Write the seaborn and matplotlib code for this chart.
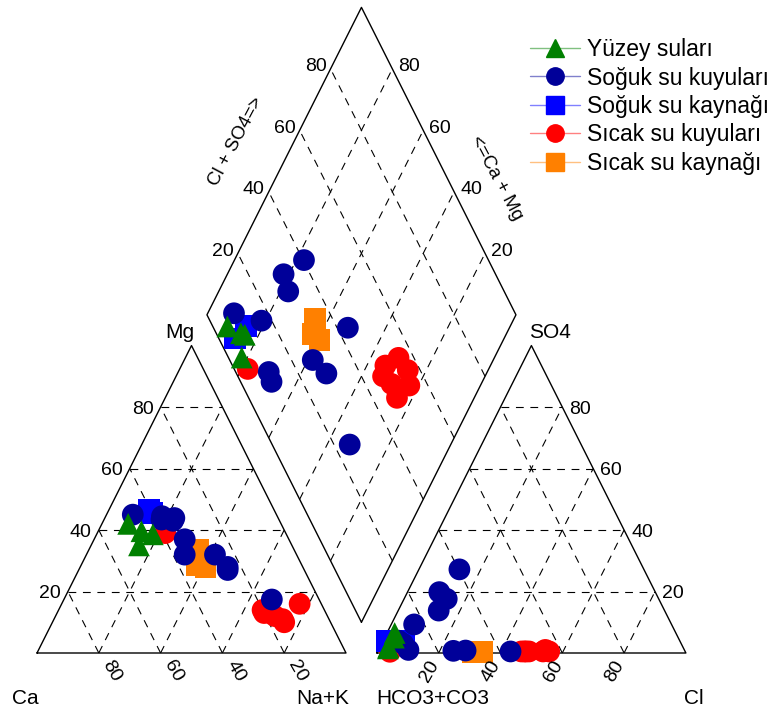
import numpy as np
import pandas as pd
import matplotlib
matplotlib.use("Agg")
import matplotlib.pyplot as plt
from matplotlib.lines import Line2D
from matplotlib.transforms import offset_copy
import seaborn as sns

# ---------------- data (percent of meq) ----------------
groups = ["Yüzey suları", "Soğuk su kuyuları", "Soğuk su kaynağı",
          "Sıcak su kuyuları", "Sıcak su kaynağı"]

# Yüzey suları
yuzey_mg = [42.0, 39.6, 35.0, 38.6]
yuzey_nak = [8.5, 14.0, 15.5, 18.2]
yuzey_so4 = [2.0, 5.0, 6.5, 1.5]
yuzey_cl = [2.7, 3.0, 2.5, 2.8]

# Soğuk su kuyuları
sogukk_mg = [45.0, 43.4, 44.5, 43.9, 43.0, 28.0, 32.0, 27.0, 37.0, 32.0, 17.4]
sogukk_nak = [8.5, 18.6, 18.2, 22.5, 22.5, 47.7, 41.6, 48.2, 29.3, 31.8, 67.3]
sogukk_so4 = [4.0, 9.3, 17.6, 27.2, 19.8, 0.5, 13.8, 0.8, 1.0, 3.0, 0.7]
sogukk_cl = [5.0, 7.4, 13.8, 13.1, 10.3, 43.0, 13.1, 28.3, 9.7, 7.0, 24.4]

# Soğuk su kaynağı
soguky_mg = [46.5, 45.5]
soguky_nak = [13.0, 14.5]
soguky_so4 = [4.0, 4.0]
soguky_cl = [1.3, 6.8]

# Sıcak su kuyuları
sicakk_mg = [14.0, 13.0, 11.0, 13.0, 16.0, 10.0, 12.0, 39.0]
sicakk_nak = [66.0, 69.0, 74.0, 67.0, 77.0, 75.0, 71.0, 22.0]
sicakk_so4 = [0.5, 1.0, 0.5, 0.5, 0.5, 0.5, 0.5, 0.4]
sicakk_cl = [49.0, 54.0, 55.5, 46.5, 53.5, 47.5, 48.0, 4.0]

# Sıcak su kaynağı
sicaky_mg = [33.5, 28.5, 28.0]
sicaky_nak = [35.5, 37.5, 40.5]
sicaky_so4 = [0.3, 0.3, 0.3]
sicaky_cl = [34.0, 31.0, 32.0]

grid_levels = [20, 40, 60, 80]

colors = {"Yüzey suları": "#008000", "Soğuk su kuyuları": "#000099",
          "Soğuk su kaynağı": "#0000FF", "Sıcak su kuyuları": "#FF0000",
          "Sıcak su kaynağı": "#FF8000"}
markers = {"Yüzey suları": "^", "Soğuk su kuyuları": "o",
           "Soğuk su kaynağı": "s", "Sıcak su kuyuları": "o",
           "Sıcak su kaynağı": "s"}

# ---------------- geometry ----------------
H = np.sqrt(3) / 2
GAP = 0.1


def cation_xy(mg, nak):
    mg = np.asarray(mg) / 100
    nak = np.asarray(nak) / 100
    return nak + 0.5 * mg, H * mg


def anion_xy(so4, cl):
    so4 = np.asarray(so4) / 100
    cl = np.asarray(cl) / 100
    return 1 + GAP + cl + 0.5 * so4, H * so4


def diamond_xy(camg, clso4):
    a = np.asarray(camg) / 100
    b = np.asarray(clso4) / 100
    return 1 + GAP / 2 + 0.5 * (b - a), H * GAP + H * (a + b)


data_sets = {
    "Sıcak su kaynağı": (sicaky_mg, sicaky_nak, sicaky_so4, sicaky_cl),
    "Sıcak su kuyuları": (sicakk_mg, sicakk_nak, sicakk_so4, sicakk_cl),
    "Soğuk su kaynağı": (soguky_mg, soguky_nak, soguky_so4, soguky_cl),
    "Soğuk su kuyuları": (sogukk_mg, sogukk_nak, sogukk_so4, sogukk_cl),
    "Yüzey suları": (yuzey_mg, yuzey_nak, yuzey_so4, yuzey_cl),
}

rows = []
for g, (mg, nak, so4, cl) in data_sets.items():
    cx, cy = cation_xy(mg, nak)
    axx, ayy = anion_xy(so4, cl)
    camg = 100 - np.asarray(nak)
    clso4 = np.asarray(cl) + np.asarray(so4)
    dx, dy = diamond_xy(camg, clso4)
    for xs, ys in ((cx, cy), (axx, ayy), (dx, dy)):
        for xv, yv in zip(xs, ys):
            rows.append({"x": xv, "y": yv, "grup": g})
df = pd.DataFrame(rows)

# ---------------- figure ----------------
sns.set_style("white")
plt.rcParams["font.family"] = ["Liberation Sans", "DejaVu Sans"]
plt.rcParams["text.color"] = "black"

fig = plt.figure(figsize=(7.76, 7.16), dpi=100)
ax = fig.add_axes([0, 0, 1, 1])
PX_X, PX_Y, X0, Y0 = 309.0, 355.0, 37.0, 653.0
ax.set_xlim(-X0 / PX_X, (776 - X0) / PX_X)
ax.set_ylim((Y0 - 716) / PX_Y, Y0 / PX_Y)
ax.axis("off")

solid = dict(color="black", lw=1.0, zorder=2)
dash = dict(color="black", lw=0.8, ls=(0, (7, 6)), zorder=1.5)

# outlines
ax.plot([0, 1, 0.5, 0], [0, 0, H, 0], **solid)
ax.plot([1 + GAP, 2 + GAP, 1.5 + GAP, 1 + GAP], [0, 0, H, 0], **solid)
dpx, dpy = diamond_xy([0, 100, 100, 0, 0], [0, 0, 100, 100, 0])
ax.plot(dpx, dpy, **solid)

for lv in grid_levels:
    f = lv / 100
    # cation triangle
    ax.plot([0.5 * f, 1 - 0.5 * f], [H * f, H * f], **dash)
    ax.plot([f, f + 0.5 * (1 - f)], [0, H * (1 - f)], **dash)
    ax.plot([1 - f, 0.5 * (1 - f)], [0, H * (1 - f)], **dash)
    # anion triangle
    o = 1 + GAP
    ax.plot([o + 0.5 * f, o + 1 - 0.5 * f], [H * f, H * f], **dash)
    ax.plot([o + f, o + f + 0.5 * (1 - f)], [0, H * (1 - f)], **dash)
    ax.plot([o + 1 - f, o + 0.5 * (1 - f)], [0, H * (1 - f)], **dash)
    # diamond
    lx, ly = diamond_xy([lv, lv], [0, 100])
    ax.plot(lx, ly, **dash)
    lx, ly = diamond_xy([0, 100], [lv, lv])
    ax.plot(lx, ly, **dash)

# markers
sns.scatterplot(data=df, x="x", y="y", hue="grup", style="grup",
                hue_order=groups, style_order=groups,
                palette=colors, markers=markers, s=245, linewidth=0,
                edgecolor="none", legend=False, ax=ax, zorder=3)


def off(dx, dy):
    return offset_copy(ax.transData, fig=fig, x=dx, y=dy, units="dots")


tick_fs = 14
for lv in grid_levels:
    f = lv / 100
    # Mg (left edge of cation triangle)
    ax.text(0.5 * f, H * f, str(lv), transform=off(-7, -2), ha="right",
            va="center", fontsize=tick_fs)
    # Ca along base
    ax.text(f, 0, str(100 - lv), transform=off(13, -18), ha="center",
            va="center", rotation=-60, fontsize=tick_fs)
    # Cl along base of anion triangle
    ax.text(1 + GAP + f, 0, str(lv), transform=off(-9, -18), ha="center",
            va="center", rotation=60, fontsize=tick_fs)
    # SO4 along right edge
    ax.text(2 + GAP - 0.5 * f, H * f, str(lv), transform=off(7, -2),
            ha="left", va="center", fontsize=tick_fs)
    # diamond upper-left edge (Cl+SO4)
    px_, py_ = diamond_xy([100], [lv])
    ax.text(px_[0], py_[0], str(lv), transform=off(-4, 2), ha="right",
            va="center", fontsize=tick_fs)
    # diamond upper-right edge (Ca+Mg)
    px_, py_ = diamond_xy([lv], [100])
    ax.text(px_[0], py_[0], str(lv), transform=off(6, 2), ha="left",
            va="center", fontsize=tick_fs)

lab_fs = 15
ax.text(0, 0, "Ca", transform=off(-12, -45), ha="center", va="center", fontsize=lab_fs)
ax.text(1, 0, "Na+K", transform=off(-23, -45), ha="center", va="center", fontsize=lab_fs)
ax.text(0.5, H, "Mg", transform=off(-11.5, 12.6), ha="center", va="center", fontsize=lab_fs)
ax.text(1 + GAP, 0, "HCO3+CO3", transform=off(56, -45), ha="center", va="center", fontsize=lab_fs)
ax.text(2 + GAP, 0, "Cl", transform=off(8, -45), ha="center", va="center", fontsize=lab_fs)
ax.text(1.5 + GAP, H, "SO4", transform=off(19, 12.6), ha="center", va="center", fontsize=lab_fs)

ax.text((236.5 - X0) / PX_X, (Y0 - 141.5) / PX_Y, "Cl + SO4=>", rotation=62,
        ha="center", va="center", fontsize=13.5)
ax.text((496.5 - X0) / PX_X, (Y0 - 178.5) / PX_Y, "<=Ca + Mg", rotation=-62,
        ha="center", va="center", fontsize=13.5)


def lighten(c, amt=0.5):
    r, g, b = matplotlib.colors.to_rgb(c)
    return (r + (1 - r) * amt, g + (1 - g) * amt, b + (1 - b) * amt)


handles = [Line2D([0], [0], color=lighten(colors[g]), lw=1.0, marker=markers[g],
                  markersize=12.5, markerfacecolor=colors[g],
                  markeredgecolor=colors[g], label=g) for g in groups]
fig.legend(handles=handles, loc="upper left", bbox_to_anchor=(530 / 776, 1 - 38 / 716),
           frameon=False, fontsize=16.5, handlelength=2.2, handletextpad=0.3,
           labelspacing=0.24, borderpad=0, borderaxespad=0)

fig.savefig("out.png", dpi=100)
